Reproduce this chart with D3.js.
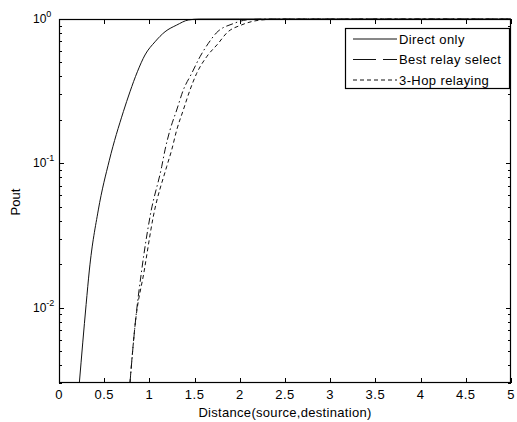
<!DOCTYPE html>
<html>
<head>
<meta charset="utf-8">
<script src="https://cdn.jsdelivr.net/npm/d3@7"></script>
<style>
  html, body { margin: 0; padding: 0; background: #fff; }
  svg { display: block; }
  text { font-family: "Liberation Sans", Arial, sans-serif; fill: #000; }
</style>
</head>
<body>
<svg id="chart" width="517" height="422"></svg>
<script>
// Outage probability versus source-destination distance
const xTicks = [0, 0.5, 1, 1.5, 2, 2.5, 3, 3.5, 4, 4.5, 5];
const xTickLabels = ["0", "0.5", "1", "1.5", "2", "2.5", "3", "3.5", "4", "4.5", "5"];
const yMajorTicks = [1, 0.1, 0.01];
const yMajorExponents = ["0", "-1", "-2"];

const seriesNames = ["Direct only", "Best relay select", "3-Hop relaying"];

const directDistance = [0.225, 0.30, 0.336, 0.435, 0.557, 0.712, 0.785, 0.867, 0.951, 1.062, 1.173, 1.302, 1.43, 1.55, 2.0, 5.0];
const directPout     = [0.003, 0.0105, 0.0182, 0.0475, 0.105, 0.228, 0.313, 0.431, 0.563, 0.695, 0.816, 0.908, 0.984, 0.999, 1, 1];

const bestRelayDistance = [0.785, 0.84, 0.915, 1.007, 1.136, 1.173, 1.228, 1.302, 1.375, 1.468, 1.56, 1.652, 1.74, 1.93, 2.1, 2.3, 5.0];
const bestRelayPout     = [0.003, 0.0074, 0.0182, 0.0427, 0.0947, 0.124, 0.170, 0.234, 0.322, 0.420, 0.548, 0.678, 0.80, 0.93, 0.99, 0.999, 1];

const threeHopDistance = [0.785, 0.84, 0.944, 1.043, 1.191, 1.247, 1.302, 1.375, 1.449, 1.523, 1.634, 1.762, 1.855, 2.02, 2.28, 2.5, 5.0];
const threeHopPout     = [0.003, 0.0074, 0.0182, 0.0427, 0.0947, 0.124, 0.170, 0.234, 0.322, 0.420, 0.548, 0.678, 0.80, 0.91, 0.99, 0.999, 1];

const svg = d3.select("#chart");
svg.append("rect").attr("width", 517).attr("height", 422).attr("fill", "#fff");

const plotLeft = 59, plotRight = 511, plotTop = 19, plotBottom = 383;
const x = d3.scaleLinear().domain([0, 5]).range([plotLeft, plotRight]);
const y = d3.scaleLog().domain([0.003, 1]).range([plotBottom, plotTop]);

// minor log ticks: 2..9 x 10^k inside the domain
const yMinorTicks = [];
[0.001, 0.01, 0.1].forEach(base => {
  for (let m = 2; m <= 9; m++) {
    const v = base * m;
    if (v >= 0.003 && v < 1) yMinorTicks.push(v);
  }
});

const axes = svg.append("g").attr("stroke", "#000").attr("stroke-width", 1);

// bottom and top ticks (pointing inward)
xTicks.forEach(t => {
  const px = Math.round(x(t)) + 0.5;
  axes.append("line").attr("x1", px).attr("x2", px).attr("y1", plotBottom).attr("y2", plotBottom - 5);
  axes.append("line").attr("x1", px).attr("x2", px).attr("y1", plotTop).attr("y2", plotTop + 5);
});
// left and right ticks
yMajorTicks.forEach(t => {
  const py = Math.round(y(t)) + 0.5;
  axes.append("line").attr("x1", plotLeft).attr("x2", plotLeft + 5).attr("y1", py).attr("y2", py);
  axes.append("line").attr("x1", plotRight).attr("x2", plotRight - 5).attr("y1", py).attr("y2", py);
});
yMinorTicks.forEach(t => {
  const py = Math.round(y(t)) + 0.5;
  axes.append("line").attr("x1", plotLeft).attr("x2", plotLeft + 3).attr("y1", py).attr("y2", py);
  axes.append("line").attr("x1", plotRight).attr("x2", plotRight - 3).attr("y1", py).attr("y2", py);
});

// x tick labels
svg.append("g").selectAll("text").data(xTicks).join("text")
  .attr("x", d => x(d))
  .attr("y", 399)
  .attr("text-anchor", "middle")
  .attr("font-size", 13)
  .attr("letter-spacing", 0.5)
  .text((d, i) => xTickLabels[i]);

// y tick labels: 10 with superscript exponent
yMajorTicks.forEach((t, i) => {
  const txt = svg.append("text")
    .attr("x", 33)
    .attr("y", y(t) + 4)
    .attr("font-size", 12);
  txt.append("tspan").text("10");
  txt.append("tspan").attr("dy", -6).attr("font-size", 9).text(yMajorExponents[i]);
});

// axis titles
svg.append("text")
  .attr("x", (plotLeft + plotRight) / 2)
  .attr("y", 417)
  .attr("text-anchor", "middle")
  .attr("font-size", 13)
  .attr("letter-spacing", 0.3)
  .text("Distance(source,destination)");

svg.append("text")
  .attr("transform", "translate(20,202) rotate(-90)")
  .attr("text-anchor", "middle")
  .attr("font-size", 13)
  .text("Pout");

// curves
svg.append("clipPath").attr("id", "plotClip")
  .append("rect").attr("x", plotLeft).attr("y", plotTop - 1)
  .attr("width", plotRight - plotLeft).attr("height", plotBottom - plotTop + 1);

const line = d3.line()
  .x(d => x(d[0]))
  .y(d => y(d[1]))
  .curve(d3.curveMonotoneX);

const dashStyles = [null, "7,3,1.5,3", "4,3"];
const series = [
  d3.zip(directDistance, directPout),
  d3.zip(bestRelayDistance, bestRelayPout),
  d3.zip(threeHopDistance, threeHopPout)
];

const plot = svg.append("g").attr("clip-path", "url(#plotClip)");
series.forEach((pts, i) => {
  plot.append("path")
    .attr("d", line(pts))
    .attr("fill", "none")
    .attr("stroke", "#111")
    .attr("stroke-width", 1)
    .attr("stroke-dasharray", dashStyles[i]);
});

// frame
svg.append("rect")
  .attr("x", plotLeft + 0.5).attr("y", plotTop + 0.5)
  .attr("width", plotRight - plotLeft - 1).attr("height", plotBottom - plotTop - 1)
  .attr("fill", "none").attr("stroke", "#000").attr("stroke-width", 1.2);

// legend
const legend = svg.append("g");
legend.append("rect")
  .attr("x", 345.5).attr("y", 28.5).attr("width", 164).attr("height", 60)
  .attr("fill", "#fff").attr("stroke", "#000").attr("stroke-width", 1.2);
const legendDash = [null, "23,7,14", "4,3"];
seriesNames.forEach((name, i) => {
  const ly = 39 + i * 20.5;
  legend.append("line")
    .attr("x1", 353).attr("x2", 397).attr("y1", ly).attr("y2", ly)
    .attr("stroke", "#111").attr("stroke-width", 1)
    .attr("stroke-dasharray", legendDash[i]);
  legend.append("text")
    .attr("x", 399).attr("y", ly + 4.5)
    .attr("font-size", 13)
    .attr("letter-spacing", 0.4)
    .text(name);
});
</script>
</body>
</html>
